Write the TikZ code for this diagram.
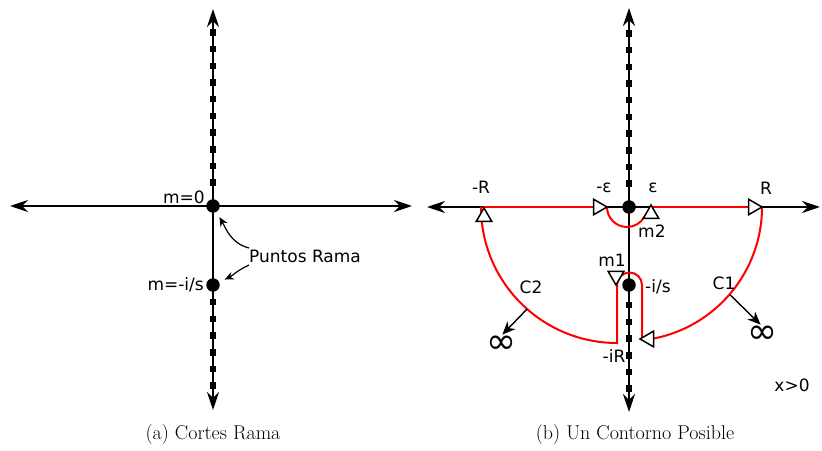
\documentclass[tikz,border=0pt]{standalone}
\usepackage{fontspec}
\newfontfamily\lblfont{DejaVu Sans}
\usetikzlibrary{positioning,calc,arrows.meta,shapes.geometric}
\tikzset{>=stealth}
\tikzset{
  eje/.style={line width=2.3pt,{Stealth[length=18pt,width=12pt,inset=6pt]}-{Stealth[length=18pt,width=12pt,inset=6pt]}},
  corte/.style={line width=6.5pt,dash pattern=on 6.5pt off 10.2pt},
  punto/.style={circle,fill,inner sep=0pt,minimum size=13.5pt},
  lbl/.style={font=\lblfont\fontsize{17}{19}\selectfont,inner sep=0pt},
  contorno/.style={red,line width=2pt},
  flecha/.style={regular polygon,regular polygon sides=3,draw,fill=white,line width=1.5pt,
    minimum size=18pt,inner sep=0pt,outer sep=0pt},
  apunta/.style={line width=1.2pt,-{Stealth[length=9pt,width=8pt]}},
  infapunta/.style={line width=1.4pt,-{Stealth[length=13pt,width=11pt,inset=4pt]}},
  infy/.style={font=\lblfont\fontsize{36}{38}\selectfont,inner sep=0pt},
  pie/.style={font=\fontsize{20}{22}\selectfont,inner sep=0pt}
}

\begin{document}
\begin{tikzpicture}[x=1pt,y=1pt]
\useasboundingbox (0,0) rectangle (822,450);
% (a) cortes rama
\coordinate (O) at (213,244);
\coordinate (P) at (213,165);
\draw[eje] (10,244) -- (412,244);
\draw[eje] (213,40) -- (213,441);
\draw[corte] (213,264) -- (213,425);
\draw[corte] (213,151) -- (213,58);
\node[punto] (m0) at (O) {};
\node[punto] (mis) at (P) {};
\node[lbl,anchor=east] (lm0) at (205,253) {m=0};
\node[lbl,anchor=east] (lmis) at (204,165) {m=-i/s};
\node[lbl] (pr) at (305,194) {Puntos Rama};
\draw[apunta,shorten >=6pt] ([yshift=8pt]pr.west) to[out=165,in=-60] (m0);
\draw[apunta,shorten >=6pt] ([yshift=-9pt]pr.west) to[out=-155,in=25] (mis);
\node[pie] (capa) at (213,15) {(a) Cortes Rama};
% (b) un contorno
\coordinate (Q) at (629,243);
\coordinate (S) at (629,165);
\draw[eje] (427,243) -- (820,243);
\draw[eje] (629,38) -- (629,442);
\draw[corte] (629,263) -- (629,425);
\draw[corte] (629,148) -- (629,56);
\coordinate (mR) at (483,243);
\coordinate (mE) at (607,243);
\coordinate (E) at (651,243);
\coordinate (R) at (762,243);
\draw[contorno] (mR) -- (mE);
\draw[contorno] (mE) arc[start angle=180,end angle=330,radius=20pt];
\draw[contorno] (E) -- (R);
\draw[contorno] (R) arc[start angle=0,end angle=-80,radius=134pt] -- (642,111)
  -- (642,165) arc[start angle=0,end angle=180,radius=12.5pt] -- (617,107)
  arc[start angle=270,end angle=180,radius=136pt];
\node[punto] (q0) at (Q) {};
\node[punto] (qis) at (S) {};
\node[flecha] (t1) at (484,233) {};
\node[flecha,shape border rotate=-90] (t2) at (598,243) {};
\node[flecha] (t3) at (651,236) {};
\node[flecha,shape border rotate=-90] (t4) at (753,243) {};
\node[flecha,shape border rotate=180] (t5) at (616,174) {};
\node[flecha,shape border rotate=90] (t6) at (649,111) {};
\node[lbl] (lmR) at (481,263) {-R};
\node[lbl] (lmE) at (604,262) {-ε};
\node[lbl] (lE) at (653,262) {ε};
\node[lbl] (lR) at (766,262) {R};
\node[lbl,anchor=west] (lm2) at (638,219) {m2};
\node[lbl] (lm1) at (612,190) {m1};
\node[lbl,anchor=west] (lis) at (645,163) {-i/s};
\node[lbl] (lC2) at (531,163) {C2};
\node[lbl] (lC1) at (724,167) {C1};
\node[lbl] (liR) at (614,94) {-iR};
\node[lbl] (lx) at (792,65) {x>0};
\coordinate (c2p) at ($(617,243)+(228.6:136pt)$);
\coordinate (c1p) at ($(Q)+(-41:134pt)$);
\node[infy] (inf2) at (501,105) {∞};
\node[infy] (inf1) at (762,115) {∞};
\draw[infapunta,shorten >=2pt] (c2p) -- (inf2.north);
\draw[infapunta,shorten >=2pt] (c1p) -- (inf1.north);
\node[pie] (capb) at (635,15) {(b) Un Contorno Posible};
\end{tikzpicture}
\end{document}
